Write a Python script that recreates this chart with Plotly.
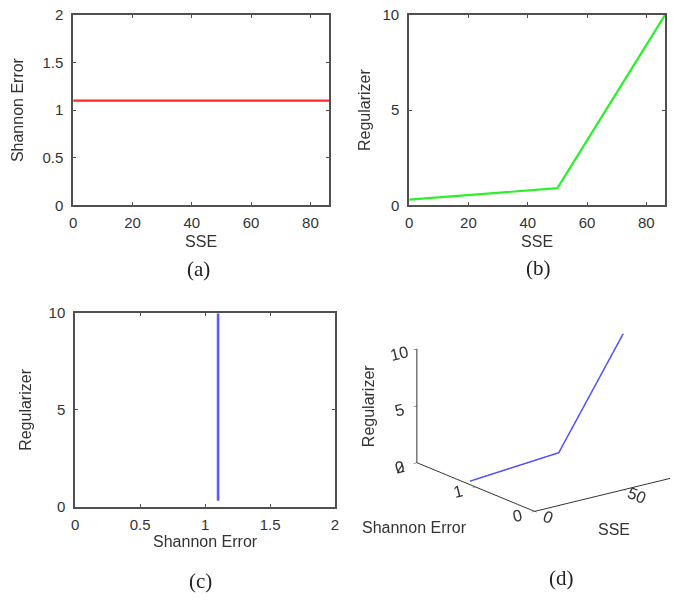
import numpy as np
import plotly.graph_objects as go

# Optimisation trace: SSE, Shannon error and regularizer at each stage
sse = [0, 50, 86.3]
shannon = [1.1, 1.1, 1.1]
regularizer = [0.3, 0.9, 10]

sse_ticks = [0, 20, 40, 60, 80]
sse_ticks_3d = [0, 50]
shannon_ticks = [0, 0.5, 1, 1.5, 2]
shannon_ticks_3d = [0, 1, 2]
reg_ticks = [0, 5, 10]
captions = ["(a)", "(b)", "(c)", "(d)"]

W, H = 674, 607
AX_COL = "#505050"
TXT_COL = "#333333"
SANS = "Liberation Sans, Arial"
TICK_FONT = dict(family=SANS, size=15, color=TXT_COL)
TITLE_FONT = dict(family=SANS, size=16, color=TXT_COL)


def px_dom(a, b, size, flip=False):
    if flip:
        return [1 - b / size, 1 - a / size]
    return [a / size, b / size]


fig = go.Figure()

# (a) Shannon error vs SSE
fig.add_trace(go.Scatter(x=sse, y=shannon, mode="lines",
                         line=dict(color="#ff2828", width=2.2),
                         xaxis="x", yaxis="y", showlegend=False))
# (b) Regularizer vs SSE
fig.add_trace(go.Scatter(x=sse, y=regularizer, mode="lines",
                         line=dict(color="#2cf02c", width=2.2),
                         xaxis="x2", yaxis="y2", showlegend=False))
# (c) Regularizer vs Shannon error
fig.add_trace(go.Scatter(x=shannon, y=regularizer, mode="lines",
                         line=dict(color="#5a5aff", width=2.6),
                         xaxis="x3", yaxis="y3", showlegend=False))
# (d) 3-D trajectory
fig.add_trace(go.Scatter3d(x=sse, y=shannon, z=regularizer, mode="lines",
                           line=dict(color="#5050ff", width=3),
                           scene="scene", showlegend=False))

common = dict(showgrid=False, zeroline=False, showline=True, linecolor=AX_COL,
              linewidth=1.8, mirror="ticks", ticks="inside", ticklen=3,
              tickcolor=AX_COL, tickfont=TICK_FONT)

layout = dict(
    width=W, height=H, margin=dict(l=0, r=0, t=0, b=0),
    paper_bgcolor="white", plot_bgcolor="white",
    xaxis=dict(domain=px_dom(70, 329, W), range=[0, 86.3], tickvals=sse_ticks,
               anchor="y", ticklabelstandoff=3,
               title=dict(text="SSE", font=TITLE_FONT, standoff=6), **common),
    yaxis=dict(domain=px_dom(6, 202, H, True), range=[0, 2], tickvals=shannon_ticks,
               anchor="x", ticklabelstandoff=5,
               title=dict(text="Shannon Error", font=TITLE_FONT, standoff=15), **common),
    xaxis2=dict(domain=px_dom(410, 669, W), range=[0, 86.3], tickvals=sse_ticks,
                anchor="y2", ticklabelstandoff=3,
                title=dict(text="SSE", font=TITLE_FONT, standoff=6), **common),
    yaxis2=dict(domain=px_dom(6, 202, H, True), range=[0, 10], tickvals=reg_ticks,
                anchor="x2", ticklabelstandoff=5,
                title=dict(text="Regularizer", font=TITLE_FONT, standoff=8), **common),
    xaxis3=dict(domain=px_dom(72, 335, W), range=[0, 2], tickvals=shannon_ticks,
                anchor="y3", ticklabelstandoff=3,
                title=dict(text="Shannon Error", font=TITLE_FONT, standoff=4), **common),
    yaxis3=dict(domain=px_dom(313, 512, H, True), range=[0, 10], tickvals=reg_ticks,
                anchor="x3", ticklabelstandoff=5,
                title=dict(text="Regularizer", font=TITLE_FONT, standoff=13), **common),
)

# Orthographic view roughly matching az = -37.5 deg, el = 18.5 deg
az, el = np.radians(-37.5), np.radians(18.5)
r = 1.5
view_dir = np.array([np.cos(el) * np.sin(az), -np.cos(el) * np.cos(az), np.sin(el)])
right = np.array([np.cos(az), np.sin(az), 0.0])
look_at = -0.292 * right
eye_pos = look_at + r * view_dir

ax3d = dict(showbackground=False, showgrid=False, zeroline=False, showline=True,
            linecolor="#333333", linewidth=2, ticks="outside", ticklen=4,
            tickcolor="#333333", showspikes=False, title=dict(text=""),
            tickfont=dict(family=SANS, size=14, color=TXT_COL))

cy, half = 414, 167
k = 1.19
layout["scene"] = dict(
    domain=dict(x=px_dom(340, 674, W), y=[1 - (cy + half) / H, 1 - (cy - half) / H]),
    xaxis=dict(range=[0, 86.3], tickvals=sse_ticks_3d, **ax3d),
    yaxis=dict(range=[0, 2], tickvals=shannon_ticks_3d, **ax3d),
    zaxis=dict(range=[0, 10], tickvals=reg_ticks, **ax3d),
    aspectmode="manual", aspectratio=dict(x=k, y=k, z=0.62 * k),
    camera=dict(eye=dict(x=float(eye_pos[0]), y=float(eye_pos[1]), z=float(eye_pos[2])),
                up=dict(x=0, y=0, z=1),
                center=dict(x=float(look_at[0]), y=float(look_at[1]), z=float(look_at[2])),
                projection=dict(type="orthographic")),
    bgcolor="rgba(0,0,0,0)",
)

ann = [
    dict(text=c, x=cx / W, y=1 - cyy / H, xref="paper", yref="paper",
         showarrow=False, xanchor="center", yanchor="middle",
         font=dict(family="Liberation Serif, Times New Roman", size=21, color="#222222"))
    for c, (cx, cyy) in zip(captions, [(197, 267), (541, 266), (199, 588), (564, 585)])
]
# axis titles of the 3-D panel
for text, x, y, ang in [("Regularizer", 369, 409, -90), ("Shannon Error", 415, 533, 0),
                        ("SSE", 617, 535, 0)]:
    ann.append(dict(text=text, x=x / W, y=1 - y / H, xref="paper", yref="paper",
                    showarrow=False, xanchor="center", yanchor="middle", textangle=ang,
                    font=TITLE_FONT))
layout["annotations"] = ann

fig.update_layout(**layout)
fig.write_html("out.html")
